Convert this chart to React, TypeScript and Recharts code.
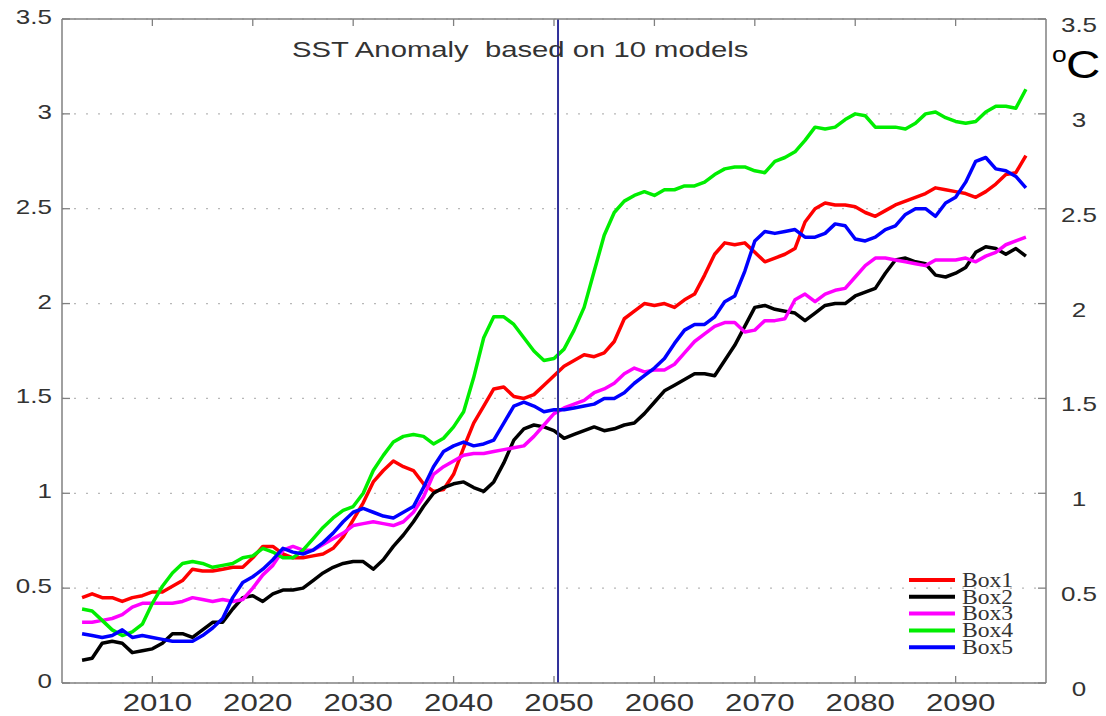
import React from 'react';
import { LineChart, Line, XAxis, YAxis, CartesianGrid, ReferenceLine } from 'recharts';

const YEARS = [
  2003, 2004, 2005, 2006, 2007, 2008, 2009, 2010, 2011, 2012,
  2013, 2014, 2015, 2016, 2017, 2018, 2019, 2020, 2021, 2022,
  2023, 2024, 2025, 2026, 2027, 2028, 2029, 2030, 2031, 2032,
  2033, 2034, 2035, 2036, 2037, 2038, 2039, 2040, 2041, 2042,
  2043, 2044, 2045, 2046, 2047, 2048, 2049, 2050, 2051, 2052,
  2053, 2054, 2055, 2056, 2057, 2058, 2059, 2060, 2061, 2062,
  2063, 2064, 2065, 2066, 2067, 2068, 2069, 2070, 2071, 2072,
  2073, 2074, 2075, 2076, 2077, 2078, 2079, 2080, 2081, 2082,
  2083, 2084, 2085, 2086, 2087, 2088, 2089, 2090, 2091, 2092,
  2093, 2094, 2095, 2096, 2097,
];

const BOX1 = [
  0.45, 0.47, 0.45, 0.45, 0.43, 0.45, 0.46, 0.48, 0.48, 0.51,
  0.54, 0.60, 0.59, 0.59, 0.60, 0.61, 0.61, 0.66, 0.72, 0.72,
  0.68, 0.66, 0.66, 0.67, 0.68, 0.71, 0.77, 0.86, 0.95, 1.06,
  1.12, 1.17, 1.14, 1.12, 1.05, 1.01, 1.02, 1.10, 1.24, 1.37,
  1.46, 1.55, 1.56, 1.51, 1.50, 1.52, 1.57, 1.62, 1.67, 1.70,
  1.73, 1.72, 1.74, 1.80, 1.92, 1.96, 2.00, 1.99, 2.00, 1.98,
  2.02, 2.05, 2.15, 2.26, 2.32, 2.31, 2.32, 2.27, 2.22, 2.24,
  2.26, 2.29, 2.43, 2.50, 2.53, 2.52, 2.52, 2.51, 2.48, 2.46,
  2.49, 2.52, 2.54, 2.56, 2.58, 2.61, 2.60, 2.59, 2.58, 2.56,
  2.59, 2.63, 2.68, 2.69, 2.78,
];

const BOX2 = [
  0.12, 0.13, 0.21, 0.22, 0.21, 0.16, 0.17, 0.18, 0.21, 0.26,
  0.26, 0.24, 0.28, 0.32, 0.32, 0.39, 0.45, 0.46, 0.43, 0.47,
  0.49, 0.49, 0.50, 0.54, 0.58, 0.61, 0.63, 0.64, 0.64, 0.60,
  0.65, 0.72, 0.78, 0.85, 0.93, 1.00, 1.03, 1.05, 1.06, 1.03,
  1.01, 1.06, 1.16, 1.28, 1.34, 1.36, 1.35, 1.33, 1.29, 1.31,
  1.33, 1.35, 1.33, 1.34, 1.36, 1.37, 1.42, 1.48, 1.54, 1.57,
  1.60, 1.63, 1.63, 1.62, 1.70, 1.78, 1.88, 1.98, 1.99, 1.97,
  1.96, 1.95, 1.91, 1.95, 1.99, 2.00, 2.00, 2.04, 2.06, 2.08,
  2.16, 2.23, 2.24, 2.22, 2.21, 2.15, 2.14, 2.16, 2.19, 2.27,
  2.30, 2.29, 2.26, 2.29, 2.25,
];

const BOX3 = [
  0.32, 0.32, 0.33, 0.34, 0.36, 0.40, 0.42, 0.42, 0.42, 0.42,
  0.43, 0.45, 0.44, 0.43, 0.44, 0.43, 0.44, 0.50, 0.57, 0.62,
  0.70, 0.72, 0.70, 0.70, 0.73, 0.76, 0.79, 0.83, 0.84, 0.85,
  0.84, 0.83, 0.85, 0.90, 0.98, 1.10, 1.14, 1.17, 1.20, 1.21,
  1.21, 1.22, 1.23, 1.24, 1.25, 1.30, 1.36, 1.42, 1.45, 1.47,
  1.49, 1.53, 1.55, 1.58, 1.63, 1.66, 1.64, 1.65, 1.65, 1.68,
  1.74, 1.80, 1.84, 1.88, 1.90, 1.90, 1.85, 1.86, 1.91, 1.91,
  1.92, 2.02, 2.05, 2.01, 2.05, 2.07, 2.08, 2.14, 2.20, 2.24,
  2.24, 2.23, 2.22, 2.21, 2.20, 2.23, 2.23, 2.23, 2.24, 2.22,
  2.25, 2.27, 2.31, 2.33, 2.35,
];

const BOX4 = [
  0.39, 0.38, 0.33, 0.28, 0.25, 0.27, 0.31, 0.42, 0.51, 0.58,
  0.63, 0.64, 0.63, 0.61, 0.62, 0.63, 0.66, 0.67, 0.71, 0.69,
  0.66, 0.66, 0.70, 0.76, 0.82, 0.87, 0.91, 0.93, 1.00, 1.12,
  1.20, 1.27, 1.30, 1.31, 1.30, 1.26, 1.29, 1.35, 1.43, 1.61,
  1.82, 1.93, 1.93, 1.89, 1.82, 1.75, 1.70, 1.71, 1.76, 1.86,
  1.98, 2.17, 2.36, 2.48, 2.54, 2.57, 2.59, 2.57, 2.60, 2.60,
  2.62, 2.62, 2.64, 2.68, 2.71, 2.72, 2.72, 2.70, 2.69, 2.75,
  2.77, 2.80, 2.86, 2.93, 2.92, 2.93, 2.97, 3.00, 2.99, 2.93,
  2.93, 2.93, 2.92, 2.95, 3.00, 3.01, 2.98, 2.96, 2.95, 2.96,
  3.01, 3.04, 3.04, 3.03, 3.13,
];

const BOX5 = [
  0.26, 0.25, 0.24, 0.25, 0.28, 0.24, 0.25, 0.24, 0.23, 0.22,
  0.22, 0.22, 0.25, 0.29, 0.34, 0.45, 0.53, 0.56, 0.60, 0.65,
  0.71, 0.69, 0.68, 0.70, 0.74, 0.79, 0.85, 0.90, 0.92, 0.90,
  0.88, 0.87, 0.90, 0.93, 1.03, 1.14, 1.22, 1.25, 1.27, 1.25,
  1.26, 1.28, 1.37, 1.46, 1.48, 1.46, 1.43, 1.44, 1.44, 1.45,
  1.46, 1.47, 1.50, 1.50, 1.53, 1.58, 1.62, 1.66, 1.71, 1.79,
  1.86, 1.89, 1.89, 1.93, 2.01, 2.04, 2.17, 2.33, 2.38, 2.37,
  2.38, 2.39, 2.35, 2.35, 2.37, 2.42, 2.41, 2.34, 2.33, 2.35,
  2.39, 2.41, 2.47, 2.50, 2.50, 2.46, 2.53, 2.56, 2.64, 2.75,
  2.77, 2.71, 2.70, 2.67, 2.61,
];

const X_DOMAIN = [2001, 2099];
const X_TICKS = [2010, 2020, 2030, 2040, 2050, 2060, 2070, 2080, 2090];
const Y_DOMAIN = [0, 3.5];
const Y_TICKS = [0, 0.5, 1, 1.5, 2, 2.5, 3, 3.5];
const MARKER_YEAR = 2050.4;
const TITLE = 'SST Anomaly  based on 10 models';
const UNIT_SUP = 'o';
const UNIT_MAIN = 'C';

const SERIES = [
  { key: 'box1', name: 'Box1', color: '#ff0000', values: BOX1 },
  { key: 'box2', name: 'Box2', color: '#000000', values: BOX2 },
  { key: 'box3', name: 'Box3', color: '#ff00ff', values: BOX3 },
  { key: 'box4', name: 'Box4', color: '#00ee00', values: BOX4 },
  { key: 'box5', name: 'Box5', color: '#0000ff', values: BOX5 },
];

const data = YEARS.map((year, i) => {
  const row: Record<string, number> = { year };
  SERIES.forEach((s) => {
    row[s.key] = s.values[i];
  });
  return row;
});

const W = 1106;
const H = 716;
const FRAME = '#808080';
const TEXT = '#333333';
const SANS = '"Liberation Sans", Arial, Helvetica, sans-serif';
const SERIF = '"Liberation Serif", "Times New Roman", serif';
const STRETCH = 1.3;

const BottomTick = (props: any) => {
  const { x, y, payload } = props;
  return (
    <g>
      <line x1={x} y1={y} x2={x} y2={y - 7} stroke={FRAME} strokeWidth={1.3} />
      <text
        transform={`translate(${x + 5},${y + 28}) scale(${STRETCH},1)`}
        textAnchor="middle"
        fontSize={24}
        fontFamily={SANS}
        fill={TEXT}
      >
        {payload.value}
      </text>
    </g>
  );
};

const TopTick = (props: any) => {
  const { x, y } = props;
  return <line x1={x} y1={y} x2={x} y2={y + 7} stroke={FRAME} strokeWidth={1.3} />;
};

const LeftTick = (props: any) => {
  const { x, y, payload } = props;
  return (
    <g>
      <line x1={x} y1={y} x2={x + 8} y2={y} stroke={FRAME} strokeWidth={1.3} />
      <text
        transform={`translate(${x - 10},${y + 5}) scale(${STRETCH},1)`}
        textAnchor="end"
        fontSize={20}
        fontFamily={SANS}
        fill={TEXT}
      >
        {payload.value}
      </text>
    </g>
  );
};

const RightTick = (props: any) => {
  const { x, y, payload } = props;
  return (
    <g>
      <line x1={x} y1={y} x2={x - 8} y2={y} stroke={FRAME} strokeWidth={1.3} />
      <text
        transform={`translate(${x + 33},${y + 13}) scale(${STRETCH},1)`}
        textAnchor="middle"
        fontSize={20}
        fontFamily={SANS}
        fill={TEXT}
      >
        {payload.value}
      </text>
    </g>
  );
};

const LEGEND_ROWS_Y = [580, 596.8, 613.6, 630.5, 647.3];

export default function App() {
  return (
    <div style={{ position: 'absolute', left: 0, top: 0, width: W, height: H, background: '#fff' }}>
      <LineChart
        width={W}
        height={H}
        data={data}
        margin={{ top: 18, right: 0, bottom: 0, left: 0 }}
      >
        <CartesianGrid
          vertical={false}
          stroke="#b8b8b8"
          strokeDasharray="2 10"
          strokeWidth={1.2}
        />
        <XAxis
          dataKey="year"
          type="number"
          domain={X_DOMAIN}
          ticks={X_TICKS}
          interval={0}
          height={33}
          tickSize={0}
          tickMargin={0}
          tickLine={false}
          axisLine={{ stroke: FRAME, strokeWidth: 1.5 }}
          tick={<BottomTick />}
          allowDataOverflow
        />
        <XAxis
          xAxisId="top"
          orientation="top"
          dataKey="year"
          type="number"
          domain={X_DOMAIN}
          ticks={X_TICKS}
          interval={0}
          height={1}
          tickSize={0}
          tickMargin={0}
          tickLine={false}
          axisLine={{ stroke: FRAME, strokeWidth: 1.5 }}
          tick={<TopTick />}
          allowDataOverflow
        />
        <YAxis
          type="number"
          domain={Y_DOMAIN}
          ticks={Y_TICKS}
          interval={0}
          width={62}
          tickSize={0}
          tickMargin={0}
          tickLine={false}
          axisLine={{ stroke: FRAME, strokeWidth: 1.5 }}
          tick={<LeftTick />}
          allowDataOverflow
        />
        <YAxis
          yAxisId="right"
          orientation="right"
          type="number"
          domain={Y_DOMAIN}
          ticks={Y_TICKS}
          interval={0}
          width={60}
          tickSize={0}
          tickMargin={0}
          tickLine={false}
          axisLine={{ stroke: FRAME, strokeWidth: 1.5 }}
          tick={<RightTick />}
          allowDataOverflow
        />
        {SERIES.map((s) => (
          <Line
            key={s.key}
            type="linear"
            dataKey={s.key}
            name={s.name}
            stroke={s.color}
            strokeWidth={3.5}
            dot={false}
            activeDot={false}
            isAnimationActive={false}
            strokeLinejoin="round"
          />
        ))}
        <ReferenceLine x={MARKER_YEAR} stroke="#30309a" strokeWidth={2} />
      </LineChart>
      <svg
        width={W}
        height={H}
        style={{ position: 'absolute', left: 0, top: 0, pointerEvents: 'none' }}
      >
        <text
          transform={`translate(292,57.3) scale(1.33,1)`}
          fontSize={22}
          fontFamily={SANS}
          fill={TEXT}
          xmlSpace="preserve"
          style={{ whiteSpace: 'pre' }}
        >
          {TITLE}
        </text>
        <text
          transform={`translate(1052,61.5) scale(1.2,1)`}
          fontSize={22}
          fontFamily={SANS}
          fill="#000"
        >
          {UNIT_SUP}
        </text>
        <text
          transform={`translate(1066,78) scale(1.22,1)`}
          fontSize={39}
          fontFamily={SANS}
          fill="#000"
        >
          {UNIT_MAIN}
        </text>
        {SERIES.map((s, i) => (
          <g key={s.key}>
            <line
              x1={909}
              x2={955}
              y1={LEGEND_ROWS_Y[i]}
              y2={LEGEND_ROWS_Y[i]}
              stroke={s.color}
              strokeWidth={4}
            />
            <text
              transform={`translate(962,${LEGEND_ROWS_Y[i] + 6.7}) scale(1.18,1)`}
              fontSize={20}
              fontFamily={SERIF}
              fill={TEXT}
            >
              {s.name}
            </text>
          </g>
        ))}
      </svg>
    </div>
  );
}
